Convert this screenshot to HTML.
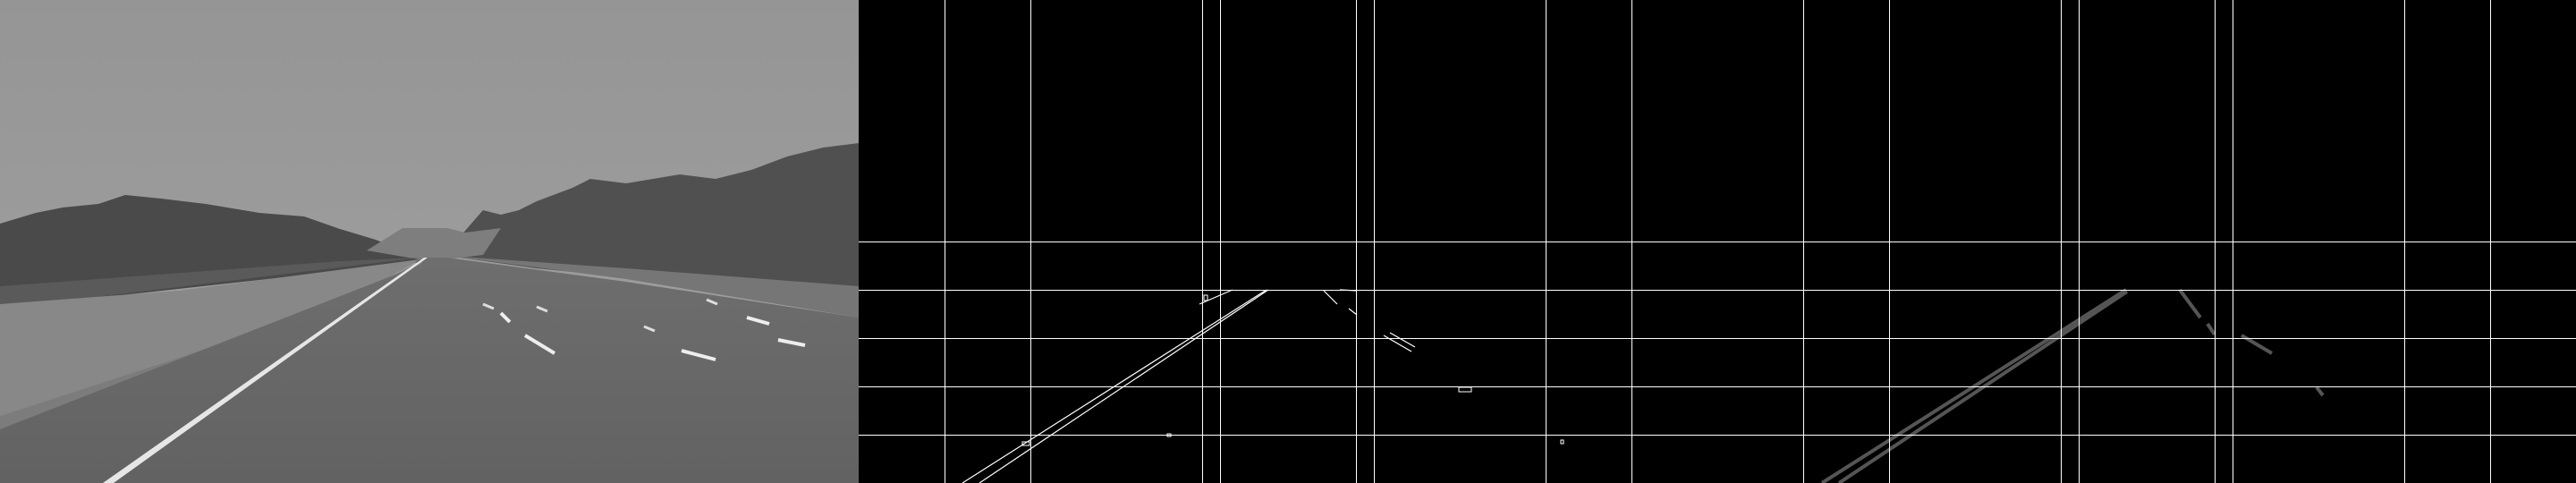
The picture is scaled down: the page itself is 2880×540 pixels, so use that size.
<!DOCTYPE html>
<html><head><meta charset="utf-8"><style>
html,body{margin:0;padding:0;background:#000;}
svg{display:block;}
</style></head><body>
<svg id="fig" width="2880" height="540" viewBox="0 0 2880 540" xmlns="http://www.w3.org/2000/svg">
<defs>
<linearGradient id="sky" x1="0" y1="0" x2="0" y2="1"><stop offset="0" stop-color="#959595"/><stop offset="1" stop-color="#a2a2a2"/></linearGradient>
<linearGradient id="road" x1="0" y1="0" x2="0" y2="1"><stop offset="0" stop-color="#6e6e6e"/><stop offset="1" stop-color="#626262"/></linearGradient>
</defs>
<g id="photo">
<rect x="0" y="0" width="960" height="540" fill="url(#sky)"/>
<polygon fill="#4a4a4a" points="0,250 40,238 70,232 110,228 140,218 180,222 230,228 290,238 340,242 380,256 400,262 420,268 480,292 0,345"/>
<polygon fill="#505050" points="500,286 520,258 540,235 560,240 580,235 600,225 640,210 660,200 700,205 760,195 800,200 840,190 880,175 920,165 960,160 960,345 800,320 600,300"/>
<polygon fill="#7e7e7e" points="410,280 450,255 500,255 520,260 560,255 540,285 480,292"/>
<polygon fill="#5a5a5a" points="0,320 380,292 470,288 0,345"/>
<polygon fill="#888" points="0,340 200,325 470,290 400,330 200,400 0,465"/>
<polygon fill="#7c7c7c" points="0,465 200,400 400,330 475,289 470,296 250,400 0,480"/>
<polygon fill="url(#road)" points="0,480 470,296 475,288 500,288 700,315 960,355 960,540 0,540"/>
<polygon fill="#767676" points="500,286 700,300 960,320 960,355 700,312"/>
<polygon fill="#e6e6e6" points="115,540 127,540 478,288 474,288"/>
</g>
<g id="edges"><rect x="960" y="0" width="960" height="540" fill="#000"/></g>
<g id="hough"><rect x="1920" y="0" width="960" height="540" fill="#000"/></g>
</svg>
<script>
const gridX = [96, 192, 384, 404, 556, 576, 768, 864];
const gridY = [270, 324, 378, 432, 486];
const dashes = [[540,340,548,337,598,338],[600,343,608,340,660,342],[720,365,728,362,770,365],[790,335,800,334,830,337]];
// edge segments: [x1,y1,x2,y2] relative to panel
const edgeSegs = [[116,540,456,324],[135,540,458,324],[381,340,418,324],[520,325,535,340],[548,345,557,352],[587,375,618,393],[594,372,622,388],[538,324,557,325]];
const houghSegs = [[117,540,457,324],[136,540,458,326],[517,324,540,355],[548,362,556,374],[586,375,620,395],[670,433,677,442]];
const blobs = [[183,494,8,4],[345,485,4,3],[671,433,14,5],[785,492,3,4],[386,330,4,6]];
const NS = 'http://www.w3.org/2000/svg';
const photo = document.getElementById('photo');
dashes.forEach(d => {
  const p = document.createElementNS(NS, 'line');
  
  
  p.setAttribute('x1', d[0]); p.setAttribute('y1', d[1]); p.setAttribute('x2', d[0] + 12); p.setAttribute('y2', d[1] + 5);
  p.setAttribute('stroke', '#ddd'); p.setAttribute('stroke-width', 3);
  photo.appendChild(p);
});
[[587,375,620,395],[560,350,570,360],[762,392,800,402],[835,355,860,362],[870,380,900,386]].forEach(d => {
  const p = document.createElementNS(NS, 'line');
  
  
  p.setAttribute('x1', d[0]); p.setAttribute('y1', d[1]); p.setAttribute('x2', d[2]); p.setAttribute('y2', d[3]);
  p.setAttribute('stroke', '#eee'); p.setAttribute('stroke-width', 4);
  photo.appendChild(p);
});
function drawPanel(gid, ox, segs, color, width) {
  const g = document.getElementById(gid);
  segs.forEach(s => {
    const l = document.createElementNS(NS, 'line');
    
    
    l.setAttribute('x1', ox + s[0]); l.setAttribute('y1', s[1]); l.setAttribute('x2', ox + s[2]); l.setAttribute('y2', s[3]);
    l.setAttribute('stroke', color); l.setAttribute('stroke-width', width);
    g.appendChild(l);
  });
  gridX.forEach(x => {
    const l = document.createElementNS(NS, 'rect');
    
    
    l.setAttribute('x', ox + x); l.setAttribute('y', 0); l.setAttribute('width', 1); l.setAttribute('height', 540);
    l.setAttribute('fill', '#fff');
    g.appendChild(l);
  });
  gridY.forEach(y => {
    const l = document.createElementNS(NS, 'rect');
    
    
    l.setAttribute('x', ox); l.setAttribute('y', y); l.setAttribute('width', 960); l.setAttribute('height', 1);
    l.setAttribute('fill', '#fff');
    g.appendChild(l);
  });
}
drawPanel('edges', 960, edgeSegs, '#fff', 1.2);
const eg = document.getElementById('edges');
blobs.forEach(b => {
  const r = document.createElementNS(NS, 'rect');
  
  
  r.setAttribute('x', 960 + b[0]); r.setAttribute('y', b[1]); r.setAttribute('width', b[2]); r.setAttribute('height', b[3]);
  r.setAttribute('fill', 'none'); r.setAttribute('stroke', '#fff'); r.setAttribute('stroke-width', 1);
  eg.appendChild(r);
});
drawPanel('hough', 1920, houghSegs, '#555', 4);
</script>
</body></html>
